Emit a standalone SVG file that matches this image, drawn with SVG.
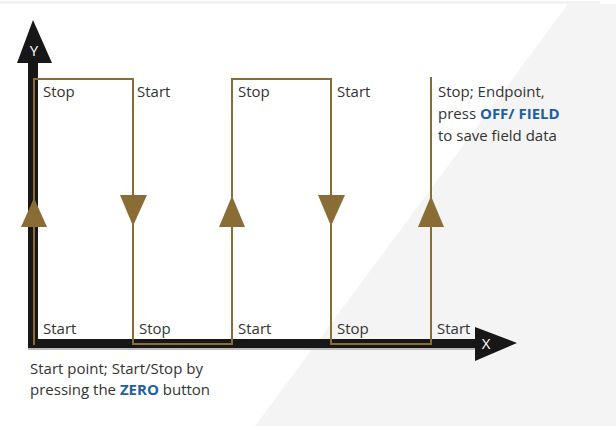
<svg xmlns="http://www.w3.org/2000/svg" width="616" height="426" viewBox="0 0 616 426">
<style>
.lbl{font-family:"Open Sans","Liberation Sans",sans-serif;font-size:15px;fill:#333333}
.b{font-weight:bold;fill:#1d5fa3}
.axl{font-family:"Open Sans","Liberation Sans",sans-serif;font-size:15px;fill:#ffffff}
.path{fill:none;stroke:#8a6d35;stroke-width:2}
.tri{fill:#8a6d35}
.ax{fill:#171717}
</style>
<rect x="0" y="0" width="616" height="426" fill="#ffffff"/>
<rect x="0" y="1" width="600" height="3" fill="#f2f2f2"/>
<polygon points="568,4 616,4 616,426 255,426" fill="#f4f4f4"/>
<g id="axes">
<rect class="ax" x="28" y="60" width="10" height="289"/>
<polygon class="ax" points="33,20 52,63 17,63"/>
<text class="axl" x="34" y="56" text-anchor="middle">Y</text>
<rect class="ax" x="28" y="339" width="449" height="9"/>
<rect x="28" y="348" width="449" height="2" fill="#bbbbbb"/>
<polygon class="ax" points="517,343 475,327 475,361"/>
<text class="axl" x="486" y="349" text-anchor="middle">X</text>
</g>
<g id="connectors">
<polyline class="path" points="34,345 34,79 133,79 133,344 232,344 232,79 331,79 331,344 431,344 431,77"/>
<polygon class="tri" points="34,198 47,227 21,227"/>
<polygon class="tri" points="120,195 147,195 133,226"/>
<polygon class="tri" points="232,196 245,227 219,227"/>
<polygon class="tri" points="318,195 345,195 331,226"/>
<polygon class="tri" points="431,196 444,227 418,227"/>
</g>
<g id="top-labels">
<text class="lbl" x="43" y="97">Stop</text>
<text class="lbl" x="137" y="97">Start</text>
<text class="lbl" x="238" y="97">Stop</text>
<text class="lbl" x="337" y="97">Start</text>
<text class="lbl" x="438" y="97">Stop; Endpoint,</text>
<text class="lbl" x="438" y="119">press <tspan class="b">OFF/ FIELD</tspan></text>
<text class="lbl" x="438" y="141">to save field data</text>
</g>
<g id="bottom-labels">
<text class="lbl" x="43" y="334">Start</text>
<text class="lbl" x="139" y="334">Stop</text>
<text class="lbl" x="238" y="334">Start</text>
<text class="lbl" x="337" y="334">Stop</text>
<text class="lbl" x="437" y="334">Start</text>
<text class="lbl" x="30" y="374">Start point; Start/Stop by</text>
<text class="lbl" x="30" y="395">pressing the <tspan class="b">ZERO</tspan> button</text>
</g>
</svg>
